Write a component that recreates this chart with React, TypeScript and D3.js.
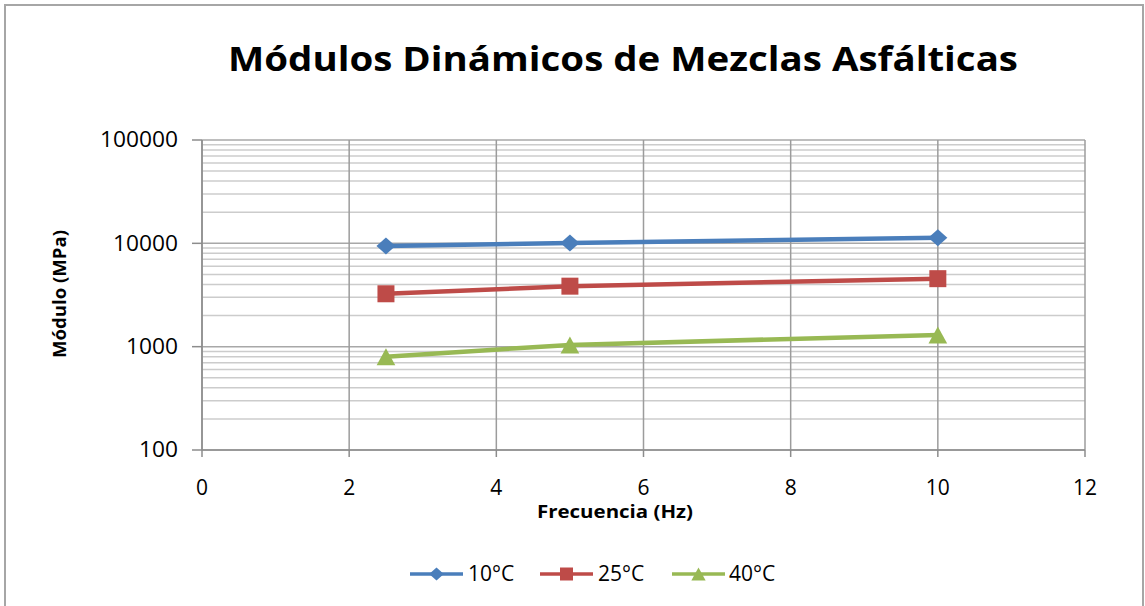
import React from "react";
import * as d3 from "d3";

const frequencies = [2.5, 5, 10];
const series10C = [9400, 10100, 11300];
const series25C = [3250, 3850, 4550];
const series40C = [800, 1040, 1300];
const seriesNames = ["10°C", "25°C", "40°C"];
const seriesColors = ["#4A7EBB", "#BE4B48", "#98B954"];
const xTicks = [0, 2, 4, 6, 8, 10, 12];
const yTicks = [100, 1000, 10000, 100000];

const W = 1145;
const H = 606;
const PL = 202, PR = 1085, PT = 140, PB = 450;

function markerPath(kind: number, s: number): string {
  if (kind === 0) {
    const w = s * 0.56, h = s * 0.5;
    return `M0,${-h}L${w},0L0,${h}L${-w},0Z`;
  }
  if (kind === 1) {
    const a = s / 2;
    return `M${-a},${-a}L${a},${-a}L${a},${a}L${-a},${a}Z`;
  }
  const w = s * 0.55, h = s * 0.5;
  return `M0,${-h}L${w},${h}L${-w},${h}Z`;
}

export default function App() {
  const x = d3.scaleLinear().domain([0, 12]).range([PL, PR]);
  const y = d3.scaleLog().domain([100, 100000]).range([PB, PT]);
  const allSeries = [series10C, series25C, series40C];
  const minorTicks = y.ticks().filter((t) => !yTicks.includes(t));
  const line = d3
    .line<[number, number]>()
    .x((d) => x(d[0]))
    .y((d) => y(d[1]));
  const font = "'Open Sans', 'Liberation Sans', sans-serif";

  const legendItems = [
    { x0: 410, x1: 463, tx: 468 },
    { x0: 540, x1: 593, tx: 598 },
    { x0: 672, x1: 725, tx: 729 },
  ];
  const legendY = 574;

  return (
    <svg
      width={W}
      height={H}
      style={{ position: "absolute", left: 0, top: 0, background: "#fff" }}
      fontFamily={font}
    >
      <rect x={0} y={0} width={W} height={H} fill="#fff" />
      <rect x={5} y={5} width={1138} height={H + 10} fill="none" stroke="#a6a6a6" strokeWidth={2} />

      <text
        x={623}
        y={71}
        textAnchor="middle"
        fontSize={34}
        fontWeight="bold"
        fill="#000"
        textLength={790}
        lengthAdjust="spacingAndGlyphs"
      >
        Módulos Dinámicos de Mezclas Asfálticas
      </text>

      {/* minor horizontal gridlines */}
      {minorTicks.map((t) => (
        <line key={"m" + t} x1={PL} x2={PR} y1={y(t)} y2={y(t)} stroke="#cccccc" strokeWidth={1.5} />
      ))}
      {/* major horizontal gridlines */}
      {yTicks.map((t) => (
        <line key={"M" + t} x1={PL} x2={PR} y1={y(t)} y2={y(t)} stroke="#a8a8a8" strokeWidth={1.5} />
      ))}
      {/* vertical gridlines */}
      {xTicks.map((t) => (
        <line key={"v" + t} x1={x(t)} x2={x(t)} y1={PT} y2={PB} stroke="#9c9c9c" strokeWidth={1.5} />
      ))}

      {/* axes */}
      <line x1={PL} x2={PL} y1={PT} y2={PB} stroke="#8c8c8c" strokeWidth={1.5} />
      <line x1={PL} x2={PR} y1={PB} y2={PB} stroke="#8c8c8c" strokeWidth={1.5} />
      {yTicks.map((t) => (
        <g key={"yt" + t}>
          <line x1={PL - 10} x2={PL} y1={y(t)} y2={y(t)} stroke="#8c8c8c" strokeWidth={1.5} />
          <text x={178} y={y(t)} dy="0.35em" textAnchor="end" fontSize={21} fill="#000" textLength={String(t).length * 13} lengthAdjust="spacingAndGlyphs">
            {t}
          </text>
        </g>
      ))}
      {xTicks.map((t) => (
        <g key={"xt" + t}>
          <line x1={x(t)} x2={x(t)} y1={PB} y2={PB + 7} stroke="#8c8c8c" strokeWidth={1.5} />
          <text x={x(t)} y={488} dy="0.35em" textAnchor="middle" fontSize={21} fill="#000">
            {t}
          </text>
        </g>
      ))}

      <text
        x={615}
        y={512}
        dy="0.35em"
        textAnchor="middle"
        fontSize={18}
        fontWeight="bold"
        fill="#000"
        textLength={156}
        lengthAdjust="spacingAndGlyphs"
      >
        Frecuencia (Hz)
      </text>
      <text
        transform={`translate(60,294) rotate(-90)`}
        textAnchor="middle"
        dy="0.35em"
        fontSize={18}
        fontWeight="bold"
        fill="#000"
        textLength={128}
        lengthAdjust="spacingAndGlyphs"
      >
        Módulo (MPa)
      </text>

      {/* series */}
      {allSeries.map((vals, i) => {
        const pts = frequencies.map((f, j) => [f, vals[j]] as [number, number]);
        return (
          <g key={"s" + i}>
            <path d={line(pts) || ""} fill="none" stroke={seriesColors[i]} strokeWidth={4.5} />
            {pts.map((p, j) => (
              <path
                key={j}
                d={markerPath(i, 17)}
                transform={`translate(${x(p[0])},${y(p[1])})`}
                fill={seriesColors[i]}
              />
            ))}
          </g>
        );
      })}

      {/* legend */}
      {legendItems.map((it, i) => (
        <g key={"l" + i}>
          <line x1={it.x0} x2={it.x1} y1={legendY} y2={legendY} stroke={seriesColors[i]} strokeWidth={3.5} />
          <path
            d={markerPath(i, 13)}
            transform={`translate(${(it.x0 + it.x1) / 2},${legendY})`}
            fill={seriesColors[i]}
          />
          <text x={it.tx} y={legendY} dy="0.35em" fontSize={21} fill="#000">
            {seriesNames[i]}
          </text>
        </g>
      ))}
    </svg>
  );
}
